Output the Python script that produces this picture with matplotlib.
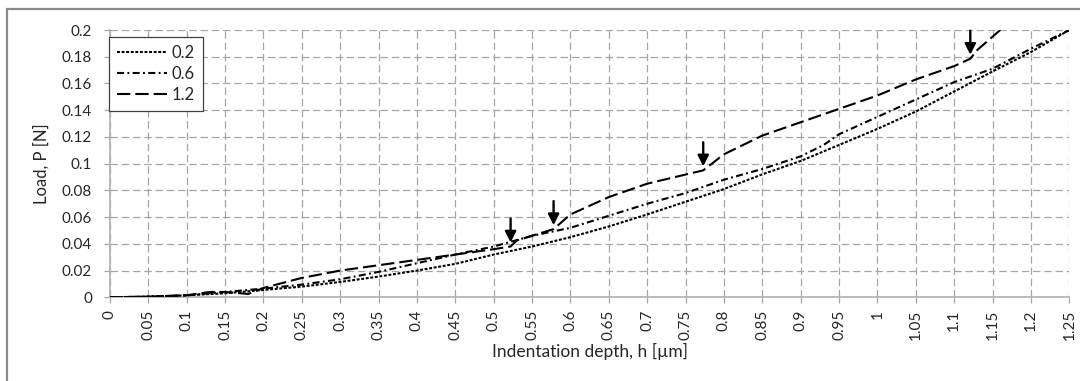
import matplotlib
matplotlib.use("Agg")
import matplotlib.pyplot as plt
from matplotlib.patches import Rectangle

plt.rcParams['font.family'] = ['Lato', 'DejaVu Sans']

# ---- data ----
x_02 = [0, 0.05, 0.1, 0.15, 0.2, 0.25, 0.3, 0.35, 0.4, 0.45, 0.5, 0.55, 0.6, 0.65,
        0.7, 0.75, 0.8, 0.85, 0.9, 0.95, 1.0, 1.05, 1.1, 1.15, 1.2, 1.25]
y_02 = [0, 0.0005, 0.0015, 0.003, 0.0055, 0.008, 0.0115, 0.0155, 0.020, 0.025, 0.032,
        0.038, 0.045, 0.053, 0.062, 0.0715, 0.081, 0.092, 0.102, 0.114, 0.126, 0.139,
        0.154, 0.169, 0.1835, 0.2]

x_06 = [0, 0.05, 0.1, 0.15, 0.2, 0.25, 0.3, 0.35, 0.4, 0.45, 0.5, 0.55, 0.6, 0.65,
        0.7, 0.75, 0.8, 0.85, 0.9, 0.93, 0.95, 1.0, 1.05, 1.1, 1.15, 1.2, 1.25]
y_06 = [0, 0.0005, 0.0015, 0.004, 0.0065, 0.0095, 0.0135, 0.019, 0.0255, 0.032, 0.038,
        0.046, 0.052, 0.061, 0.070, 0.078, 0.088, 0.096, 0.1055, 0.114, 0.122, 0.135,
        0.148, 0.161, 0.171, 0.186, 0.2]

x_12 = [0, 0.05, 0.1, 0.13, 0.15, 0.18, 0.2, 0.25, 0.3, 0.35, 0.4, 0.45, 0.5, 0.522,
        0.53, 0.578, 0.6, 0.65, 0.7, 0.773, 0.8, 0.85, 0.9, 0.95, 1.0, 1.05, 1.1,
        1.121, 1.13, 1.16]
y_12 = [0, 0.0005, 0.0015, 0.004, 0.004, 0.0025, 0.007, 0.0145, 0.020, 0.024, 0.028,
        0.032, 0.036, 0.038, 0.0425, 0.051, 0.062, 0.075, 0.085, 0.095, 0.107, 0.121,
        0.131, 0.141, 0.151, 0.163, 0.173, 0.1785, 0.185, 0.2]

arrow_x = [0.522, 0.578, 0.773, 1.121]
arrow_tip = [0.041, 0.054, 0.098, 0.1815]
arrow_len = 0.018

x_ticks = [round(0.05 * i, 2) for i in range(26)]
x_ticklabels = ['0', '0.05', '0.1', '0.15', '0.2', '0.25', '0.3', '0.35', '0.4', '0.45',
                '0.5', '0.55', '0.6', '0.65', '0.7', '0.75', '0.8', '0.85', '0.9', '0.95',
                '1', '1.05', '1.1', '1.15', '1.2', '1.25']
y_ticks = [0, 0.02, 0.04, 0.06, 0.08, 0.1, 0.12, 0.14, 0.16, 0.18, 0.2]
y_ticklabels = ['0', '0.02', '0.04', '0.06', '0.08', '0.1', '0.12', '0.14', '0.16', '0.18', '0.2']

W, H = 1080, 381
fig = plt.figure(figsize=(W / 100, H / 100), dpi=100)
ax = fig.add_axes([110 / W, (H - 297.3) / H, 959.3 / W, 267.3 / H])

# chart-area border (extends past right/bottom edges)
fig.patches.append(Rectangle((7 / W, -0.1), 1.2, (H - 9) / H + 0.1,
                             transform=fig.transFigure, fill=False,
                             edgecolor='#8c8c8c', linewidth=1.6))

lw = 1.5
ax.plot(x_02, y_02, color='black', lw=lw, ls=(0, (1.4, 0.8)), label='0.2', zorder=3)
ax.plot(x_06, y_06, color='black', lw=lw, ls=(0, (3.4, 1.6, 0.9, 1.6)), label='0.6', zorder=3)
ax.plot(x_12, y_12, color='black', lw=lw, ls=(0, (6.4, 2.4)), label='1.2', zorder=3)

for ax_x, tip in zip(arrow_x, arrow_tip):
    ax.annotate('', xy=(ax_x, tip), xytext=(ax_x, tip + arrow_len),
                arrowprops=dict(arrowstyle='-|>,head_width=0.33,head_length=0.65',
                                color='black', lw=1.7, shrinkA=0, shrinkB=0),
                annotation_clip=False, zorder=4)

ax.set_xlim(0, 1.25)
ax.set_ylim(0, 0.2)
ax.set_xticks(x_ticks)
ax.set_xticklabels(x_ticklabels, rotation=90)
ax.set_yticks(y_ticks)
ax.set_yticklabels(y_ticklabels)

ax.grid(True, color='#a6a6a6', linestyle=(0, (6, 3)), linewidth=0.9, zorder=0)
ax.set_axisbelow(True)
for s in ['top', 'right']:
    ax.spines[s].set_visible(False)
for s in ['left', 'bottom']:
    ax.spines[s].set_color('#b0b0b0')
    ax.spines[s].set_linewidth(1.2)

ax.tick_params(axis='both', direction='out', length=4, width=0.9, color='#a6a6a6',
               labelsize=11, labelcolor='#262626')
ax.tick_params(axis='y', pad=9)
ax.tick_params(axis='x', pad=5)

ax.set_ylabel('Load, P [N]', fontsize=12, color='#262626')
ax.yaxis.set_label_coords(-0.071, 0.5)
ax.set_xlabel('Indentation depth, h [\u00b5m]', fontsize=12.5, color='#262626')
ax.xaxis.set_label_coords(0.5, -0.2035)
ax.xaxis.label.set_va('center')
ax.yaxis.label.set_va('center')

leg = ax.legend(loc='upper left', bbox_to_anchor=(-0.001, 0.975), frameon=True,
                fancybox=False, edgecolor='#404040', framealpha=1, fontsize=12,
                handlelength=3.0, handletextpad=0.25, labelspacing=0.3,
                borderpad=0.5, borderaxespad=0)
leg.get_frame().set_linewidth(0.9)
for t in leg.get_texts():
    t.set_color('#262626')

fig.savefig('out.png', dpi=100)
